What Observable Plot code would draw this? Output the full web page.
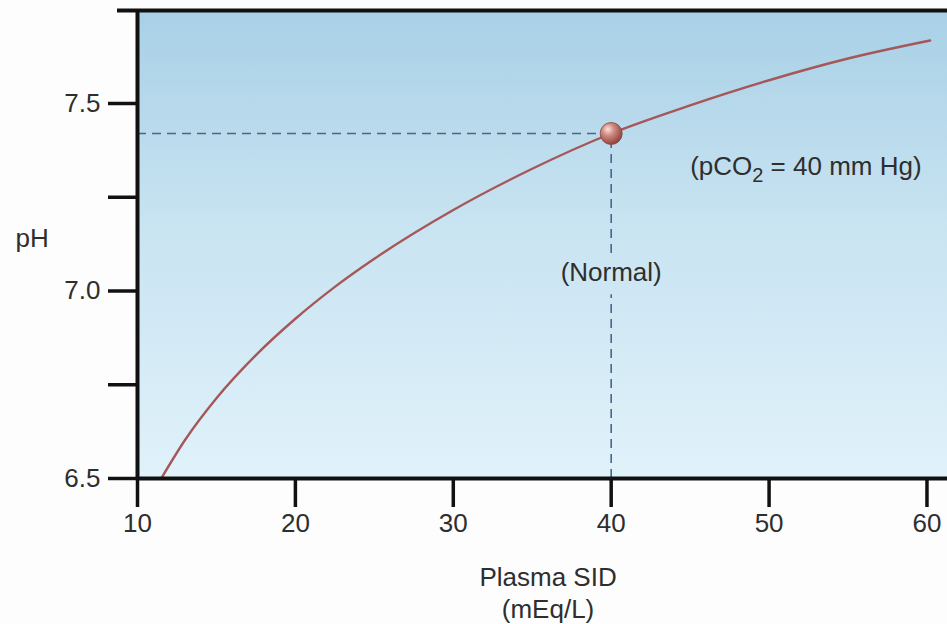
<!DOCTYPE html>
<html>
<head>
<meta charset="utf-8">
<script src="https://cdn.jsdelivr.net/npm/d3@7"></script>
<script src="https://cdn.jsdelivr.net/npm/@observablehq/plot@0.6"></script>
<style>
  html, body { margin: 0; padding: 0; background: #fdfdfd; }
  #chart { width: 947px; height: 624px; }
</style>
</head>
<body>
<div id="chart"></div>
<script>
// Curve values
const sid = [11.5, 13, 15, 17.5, 20, 22.5, 25, 30, 35, 40, 45, 50, 55, 60.2];
const ph  = [6.50, 6.602, 6.714, 6.829, 6.926, 7.011, 7.086, 7.216, 7.326, 7.42, 7.495, 7.562, 7.62, 7.668];

// Axis ticks and labels
const xTicks = [10, 20, 30, 40, 50, 60];
const yTicks = [6.5, 6.75, 7.0, 7.25, 7.5];
const yTickLabels = ["6.5", "", "7.0", "", "7.5"];
const xDomain = [10, 61.3];
const yDomain = [6.5, 7.748];

// Normal point and annotations
const normalPoint = [{sid: 40, ph: 7.42}];
const normalLabel = [{sid: 40, ph: 7.05, text: "(Normal)"}];
const pco2Label = [{sid: 45, ph: 7.332, text: "(pCO2 = 40 mm Hg)"}];
const yAxisLabel = [{ph: 7.14, text: "pH"}];
const xAxisLabel = [{sid: 36, text: "Plasma SID\n(mEq/L)"}];
const vDashSegments = [{sid: 40, y1: 6.5, y2: 6.99}, {sid: 40, y1: 7.10, y2: 7.42}];

const curve = sid.map((s, i) => ({sid: s, ph: ph[i]}));

const ink = "#111";
const textColor = "#2e2e2e";
const dashColor = "#48668e";

const plot = Plot.plot({
  width: 947,
  height: 624,
  marginLeft: 137,
  marginRight: 0,
  marginTop: 10,
  marginBottom: 146,
  x: {domain: xDomain},
  y: {domain: yDomain},
  style: {fontFamily: "'Liberation Sans', Arial, Helvetica, sans-serif", fontSize: "26px", color: textColor, background: "#fdfdfd"},
  marks: [
    Plot.frame({fill: "url(#bg)", stroke: "none"}),
    Plot.ruleX(vDashSegments, {x: "sid", y1: "y1", y2: "y2", stroke: dashColor, strokeWidth: 1.6, strokeDasharray: "9,6"}),
    Plot.ruleY(normalPoint, {y: "ph", x1: xDomain[0], x2: "sid", stroke: dashColor, strokeWidth: 1.6, strokeDasharray: "9,6"}),
    Plot.line(curve, {x: "sid", y: "ph", curve: "monotone-x", stroke: "#a55759", strokeWidth: 2.4}),
    Plot.dot(normalPoint, {x: "sid", y: "ph", r: 11, fill: "url(#ball)", stroke: "#8a4540", strokeWidth: 0.8}),
    Plot.axisY({ticks: yTicks, tickFormat: (d, i) => yTickLabels[i], tickSize: 29, tickPadding: 8, stroke: ink, strokeWidth: 3.5, fontSize: 26, label: null}),
    Plot.axisX({ticks: xTicks, tickFormat: d => String(d), tickSize: 29, tickPadding: 6, stroke: ink, strokeWidth: 3.5, fontSize: 26, label: null}),
    Plot.ruleX([xDomain[0]], {y1: yDomain[0], y2: yDomain[1], stroke: ink, strokeWidth: 4}),
    Plot.ruleY([yDomain[0]], {stroke: ink, strokeWidth: 4}),
    Plot.ruleY([yDomain[1]], {insetLeft: -20, stroke: ink, strokeWidth: 4}),
    Plot.text(yAxisLabel, {y: "ph", text: "text", frameAnchor: "left", dx: -122, textAnchor: "start", fontSize: 26, fill: textColor}),
    Plot.text(normalLabel, {x: "sid", y: "ph", text: "text", fontSize: 26, fill: textColor}),
    Plot.text(pco2Label, {x: "sid", y: "ph", text: "text", textAnchor: "start", fontSize: 26, fill: textColor}),
    Plot.text(xAxisLabel, {x: "sid", text: "text", frameAnchor: "bottom", lineAnchor: "bottom", dy: 139, lineHeight: 1.23, fontSize: 26, fill: textColor})
  ]
});

// gradients
const svg = d3.select(plot);
const defs = svg.insert("defs", ":first-child");
const lg = defs.append("linearGradient").attr("id", "bg").attr("x1", 0).attr("y1", 0).attr("x2", 0).attr("y2", 1);
lg.append("stop").attr("offset", "0%").attr("stop-color", "#a8d0e6");
lg.append("stop").attr("offset", "45%").attr("stop-color", "#c8e3f1");
lg.append("stop").attr("offset", "100%").attr("stop-color", "#e0f2fa");
const rg = defs.append("radialGradient").attr("id", "ball").attr("cx", "38%").attr("cy", "35%").attr("r", "70%").attr("fx", "35%").attr("fy", "30%");
rg.append("stop").attr("offset", "0%").attr("stop-color", "#fbe2da");
rg.append("stop").attr("offset", "40%").attr("stop-color", "#cf8a80");
rg.append("stop").attr("offset", "100%").attr("stop-color", "#8a3c38");

// subscript for pCO2
svg.selectAll("text").filter(function() { return this.textContent === "(pCO2 = 40 mm Hg)"; }).each(function() {
  const t = d3.select(this);
  t.text("");
  t.append("tspan").text("(pCO");
  t.append("tspan").attr("dy", 7).attr("font-size", 20).text("2");
  t.append("tspan").attr("dy", -7).text(" = 40 mm Hg)");
});

document.getElementById("chart").appendChild(plot);
</script>
</body>
</html>
